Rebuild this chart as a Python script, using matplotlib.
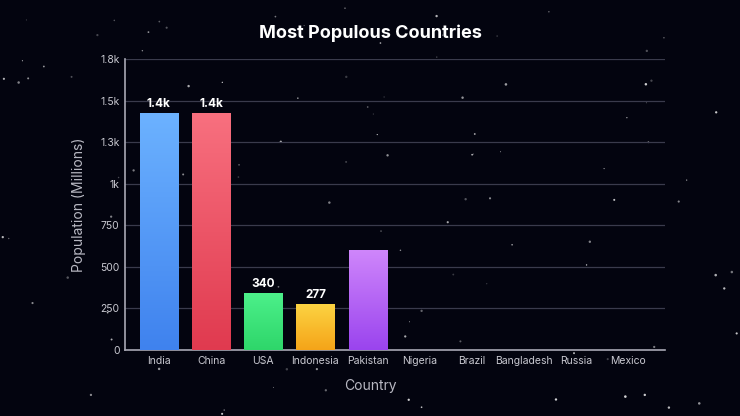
import numpy as np
import matplotlib.pyplot as plt
from matplotlib.colors import LinearSegmentedColormap

plt.rcParams['font.family'] = ['Inter', 'DejaVu Sans']

# data (frame of an animated chart: later bars still at zero)
countries = ['India', 'China', 'USA', 'Indonesia', 'Pakistan', 'Nigeria',
             'Brazil', 'Bangladesh', 'Russia', 'Mexico']
population = [1425, 1425, 340, 277, 600, 0, 0, 0, 0, 0]
value_labels = ['1.4k', '1.4k', '340', '277', '', '', '', '', '', '']
yticks = [0, 250, 500, 750, 1000, 1250, 1500, 1750]
ytick_labels = ['0', '250', '500', '750', '1k', '1.3k', '1.5k', '1.8k']

# top colour, bottom colour
bar_colors = [('#6cb2ff', '#3f82ee'), ('#f8707f', '#e03a4f'),
              ('#4cf08a', '#2ed66a'), ('#fcd443', '#f5a418'),
              ('#cf86fb', '#9a44ee')] + [('#888888', '#888888')] * 5

bg = '#03040f'

fig = plt.figure(figsize=(7.4, 4.16), dpi=100, facecolor=bg)

# star field in the background (decoration only)
star_ax = fig.add_axes([0, 0, 1, 1], zorder=0)
star_ax.set_facecolor(bg)
rng = np.random.default_rng(7)
n = 110
sx = rng.uniform(0, 1, n)
sy = rng.uniform(0, 1, n)
ss = rng.uniform(0.3, 3.5, n)
sa = rng.uniform(0.2, 0.85, n)
star_cols = np.column_stack([np.ones((n, 3)), sa])
star_ax.scatter(sx, sy, s=ss, c=star_cols, edgecolors='none')
star_ax.set_xlim(0, 1)
star_ax.set_ylim(0, 1)
star_ax.axis('off')

ax = fig.add_axes([125/740, 1-350/416, 540/740, 291/416], zorder=1)
ax.set_facecolor('none')

x = np.arange(len(countries))
width = 0.73
bars = ax.bar(x, population, width=width, color='none', zorder=3)
grad = np.linspace(0, 1, 256).reshape(-1, 1)
for b, (top, bot), h in zip(bars, bar_colors, population):
    if h <= 0:
        continue
    cmap = LinearSegmentedColormap.from_list('g', [bot, top])
    im = ax.imshow(grad, cmap=cmap, aspect='auto', origin='lower',
                   extent=[b.get_x(), b.get_x() + width, 0, h], zorder=3)
    im.set_clip_path(b)

for xi, h, lab in zip(x, population, value_labels):
    if lab:
        ax.text(xi, h + 20, lab, ha='center', va='bottom', color='white',
                fontsize=8.5, fontweight='bold', zorder=4)

ax.set_xlim(-0.65, 9.7)
ax.set_ylim(0, 1750)
ax.set_xticks(x)
ax.set_xticklabels(countries)
ax.set_yticks(yticks)
ax.set_yticklabels(ytick_labels)
ax.tick_params(colors='#c8c8d0', labelsize=7.5, length=0, pad=4)
ax.grid(axis='y', color='#3a3b4c', linewidth=0.9, zorder=0)
ax.set_axisbelow(True)
for side in ['top', 'right']:
    ax.spines[side].set_visible(False)
for side in ['left', 'bottom']:
    ax.spines[side].set_color('#a8a8b4')
    ax.spines[side].set_linewidth(1.2)

ax.set_xlabel('Country', color='#b8b8c2', fontsize=10)
ax.xaxis.set_label_coords((370 - 125) / 540, -(379 - 350) / 291)
ax.set_ylabel('Population (Millions)', color='#b8b8c2', fontsize=10,
              labelpad=10)
fig.text(0.5, 1-33/416, 'Most Populous Countries', ha='center', va='center',
         color='white', fontsize=13, fontweight='bold')

fig.savefig('out.png', dpi=100, facecolor=bg)
